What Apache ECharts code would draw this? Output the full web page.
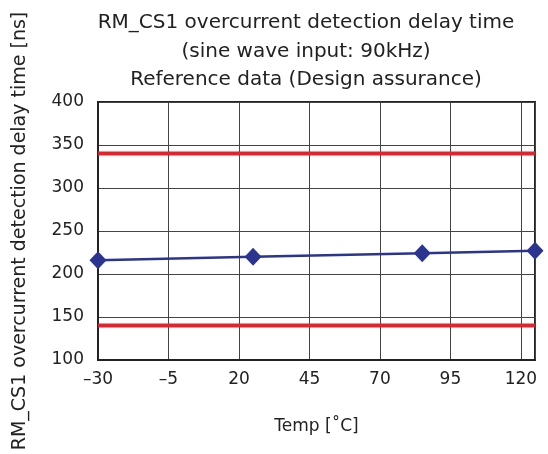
<!DOCTYPE html>
<html><head><meta charset="utf-8">
<script src="https://cdn.jsdelivr.net/npm/echarts@6/dist/echarts.min.js"></script>
<style>html,body{margin:0;padding:0;background:#fff}#c{width:548px;height:454px}</style>
</head><body><div id="c"></div>
<script>
const titleLines = ['RM_CS1 overcurrent detection delay time', '(sine wave input: 90kHz)', 'Reference data (Design assurance)'];
const xName = 'Temp [˚C]';
const yName = 'RM_CS1 overcurrent detection delay time [ns]';
const temps = [-30, 25, 85, 125];
const delay = [216, 220, 224, 227];
const upperLimit = 340;
const lowerLimit = 140;
const xRange = [-30, 125];
const yRange = [100, 400];

const chart = echarts.init(document.getElementById('c'));
const font = 'DejaVu Sans, sans-serif';
chart.setOption({
  animation: false,
  title: {
    text: titleLines.join('\n'),
    left: 301, textAlign: 'center', top: 4,
    textStyle: {fontFamily: font, fontSize: 20, fontWeight: 'normal', color: '#222', lineHeight: 28.5}
  },
  grid: {left: 98, right: 13, top: 102, bottom: 94, show: true, borderColor: '#222', borderWidth: 2,
         outerBoundsMode: 'none', containLabel: false},
  xAxis: {
    type: 'value', min: xRange[0], max: xRange[1], interval: 25,
    name: xName, nameLocation: 'middle', nameGap: 58,
    nameTextStyle: {fontFamily: font, fontSize: 17, color: '#222'},
    axisLine: {show: true, onZero: false, lineStyle: {color: '#222', width: 2}},
    axisTick: {show: false},
    axisLabel: {fontFamily: font, fontSize: 17, color: '#222', margin: 11, showMaxLabel: false,
      formatter: v => String(v).replace('-', '–')},
    splitLine: {show: true, lineStyle: {color: '#444', width: 1}}
  },
  yAxis: {
    type: 'value', min: yRange[0], max: yRange[1], interval: 50,
    name: yName, nameLocation: 'middle', nameGap: 68, nameRotate: 90,
    nameTextStyle: {fontFamily: font, fontSize: 19, color: '#222'},
    axisLine: {show: true, onZero: false, lineStyle: {color: '#222', width: 2}},
    axisTick: {show: false},
    axisLabel: {fontFamily: font, fontSize: 17, color: '#222', margin: 14},
    splitLine: {show: true, lineStyle: {color: '#444', width: 1}}
  },
  series: [
    {type: 'line', data: [[xRange[0], upperLimit], [xRange[1], upperLimit]], symbol: 'none',
     lineStyle: {color: '#e8202a', width: 4}, z: 3},
    {type: 'line', data: [[xRange[0], lowerLimit], [xRange[1], lowerLimit]], symbol: 'none',
     lineStyle: {color: '#e8202a', width: 4}, z: 3},
    {type: 'line', data: temps.map((t, i) => [t, delay[i]]), symbol: 'diamond', symbolSize: [17, 18],
     itemStyle: {color: '#2b3590'}, lineStyle: {color: '#2b3590', width: 2.5}, z: 4, clip: false}
  ]
});
</script></body></html>
